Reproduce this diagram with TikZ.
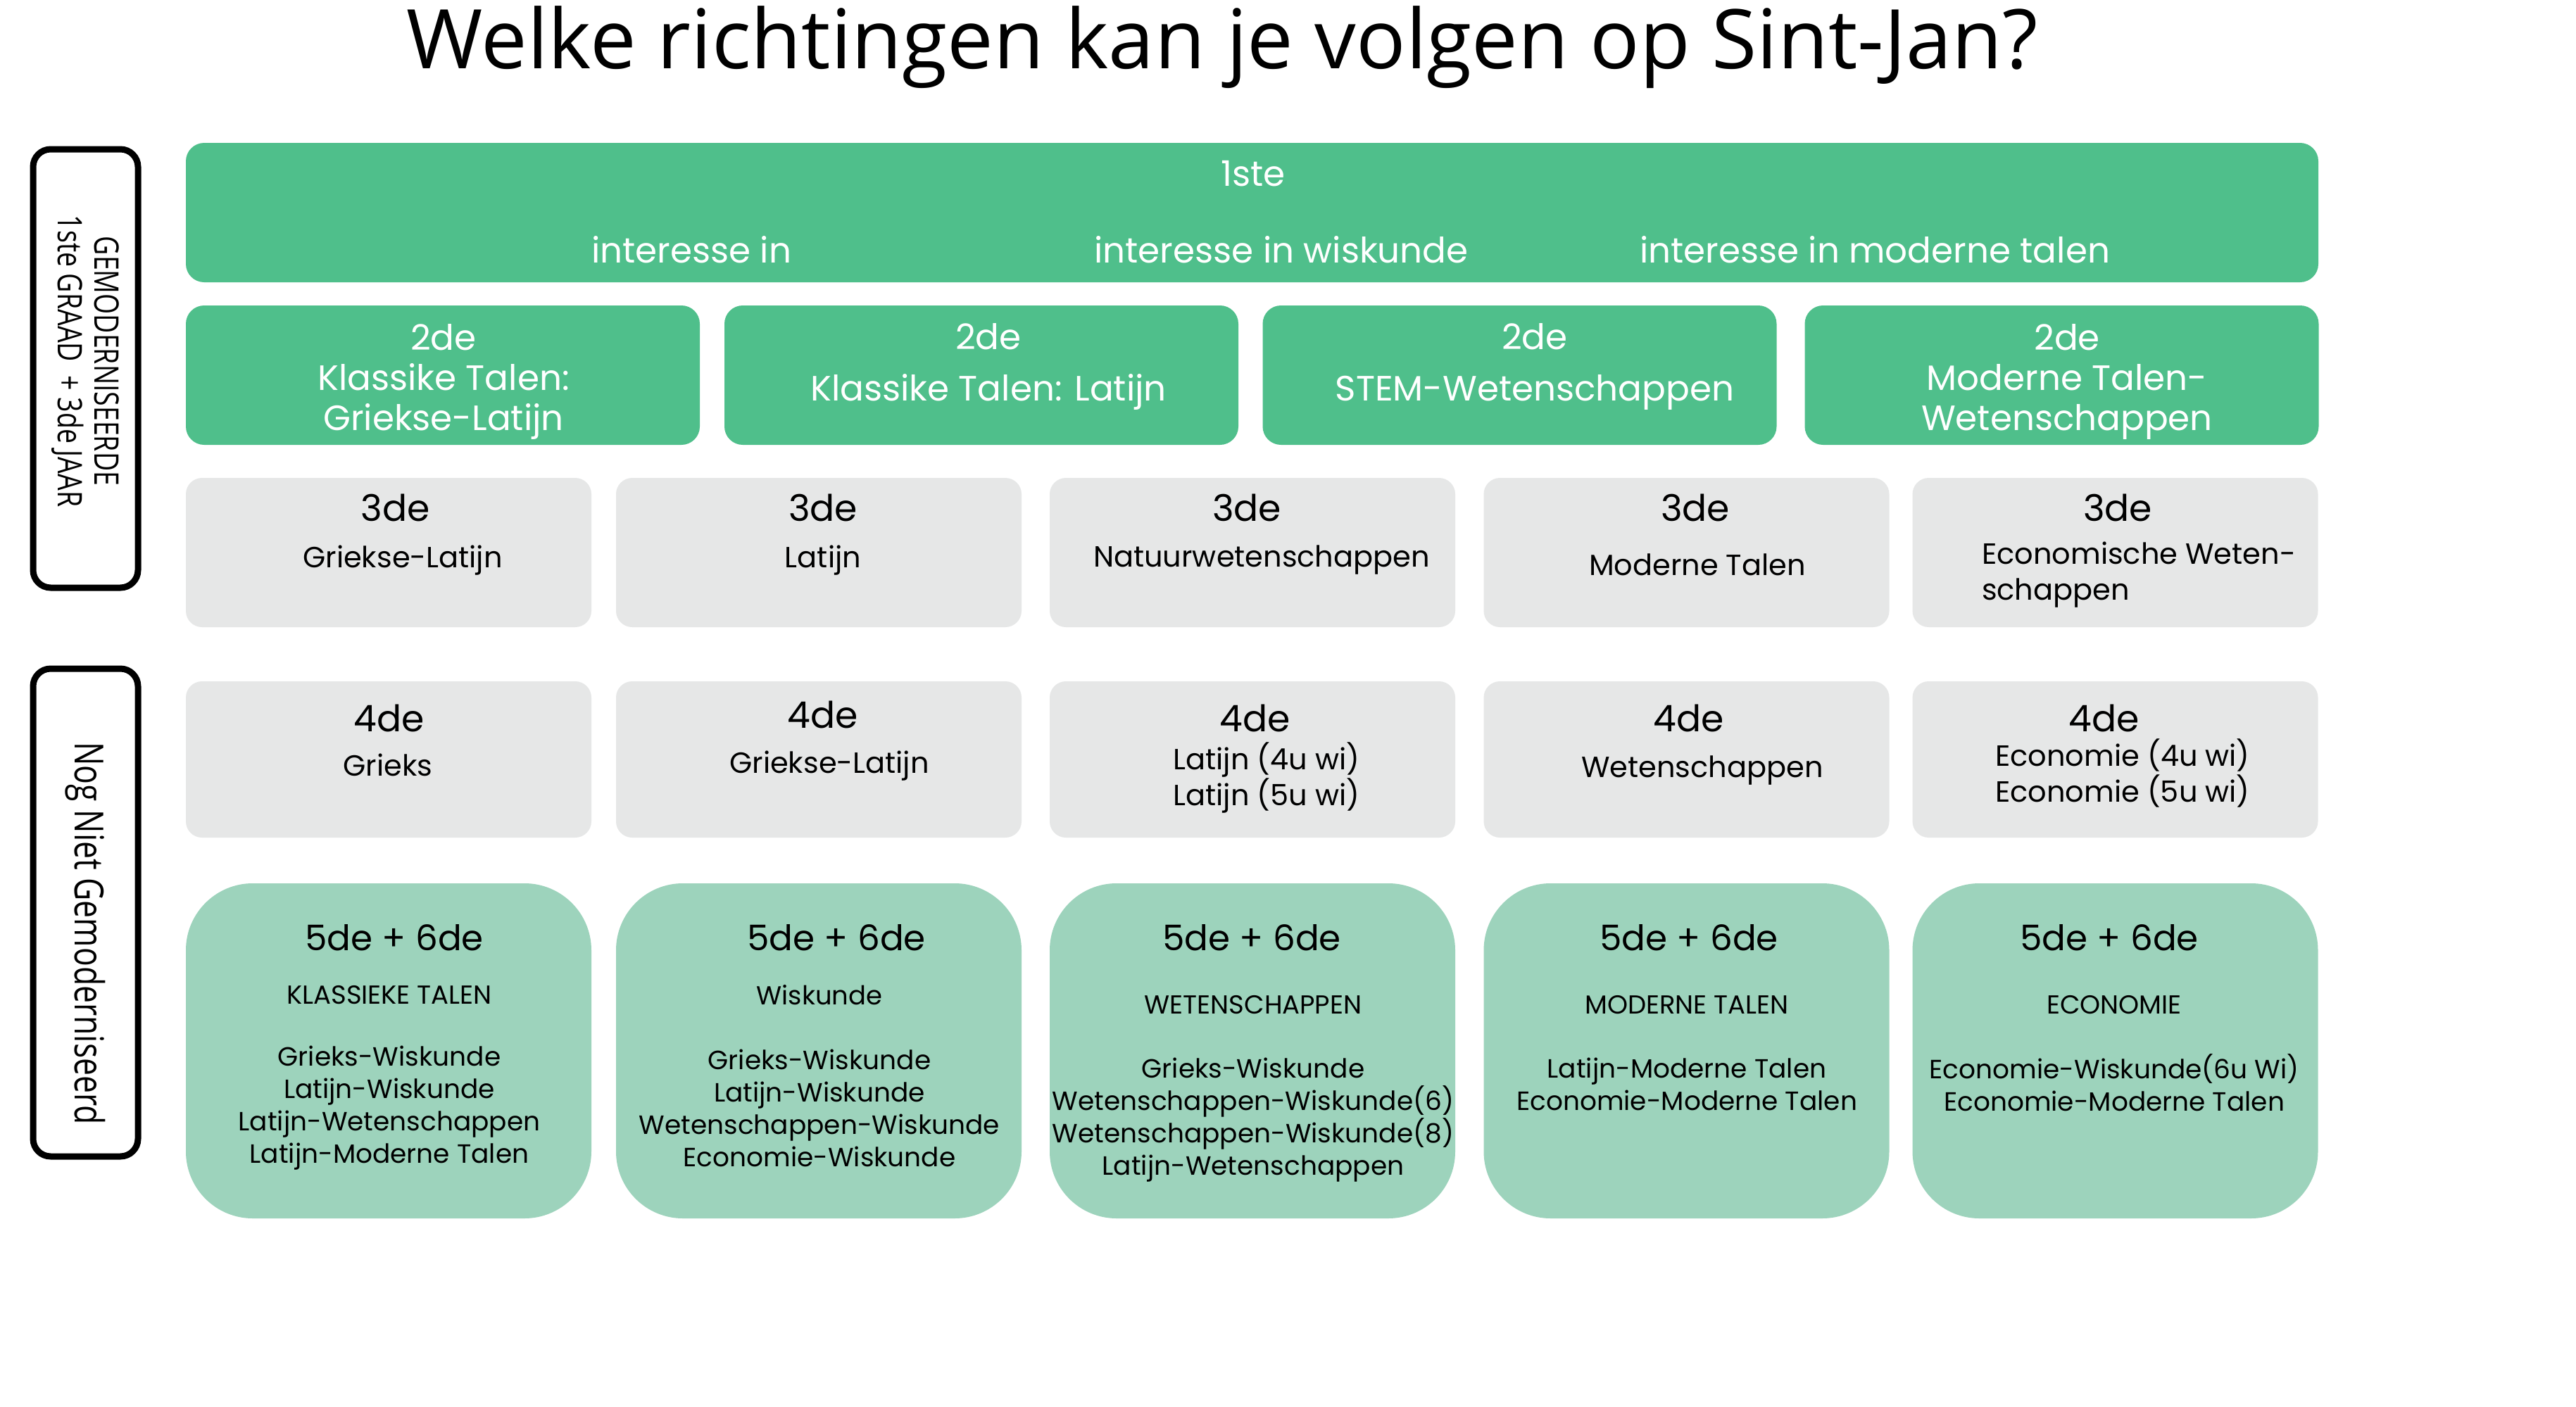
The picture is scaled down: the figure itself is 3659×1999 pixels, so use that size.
\documentclass[tikz,border=0pt]{standalone}
\usepackage{fontspec}
\setmainfont{Poppins}
\newfontfamily\titlefont{Open Sans}
\newfontfamily\condfont[FakeStretch=0.78]{Open Sans}
\definecolor{topgreen}{RGB}{79,191,139}
\definecolor{lightgreen}{RGB}{157,211,188}
\definecolor{greybox}{RGB}{230,231,231}
\tikzset{
  box/.style={draw=none, inner sep=0pt, outer sep=0pt},
  greenbox/.style={box, fill=topgreen, rounded corners=26pt, minimum height=198pt},
  twobox/.style={greenbox, minimum width=730pt},
  greybx/.style={box, fill=greybox, rounded corners=23pt, minimum width=576pt},
  fivebox/.style={box, fill=lightgreen, rounded corners=95pt, minimum width=576pt, minimum height=476pt},
  sidebox/.style={box, draw=black, line width=9pt, rounded corners=25pt, minimum width=149pt},
  wtxt/.style={text=white, inner sep=0pt, align=center, font=\fontsize{50}{57}\selectfont},
  hd/.style={inner sep=0pt, align=center, font=\fontsize{52}{60}\selectfont},
  sub/.style={inner sep=0pt, align=center, font=\fontsize{41.5}{51}\selectfont},
  fhd/.style={inner sep=0pt, align=center, font=\fontsize{50}{60}\selectfont},
  fcap/.style={inner sep=0pt, align=center, font=\fontsize{37}{40}\selectfont},
  flist/.style={inner sep=0pt, align=center, font=\fontsize{37.5}{46}\selectfont},
  sidetxt/.style={inner sep=0pt, align=center, rotate=-90},
}
\begin{document}
\begin{tikzpicture}[x=1pt,y=-1pt]
\useasboundingbox[fill=white] (0,0) rectangle (3659,1999);
% title
\node[inner sep=0pt, anchor=base, font=\titlefont\fontsize{117}{130}\selectfont] (title) at (1736,98) {Welke richtingen kan je volgen op Sint-Jan?};
% side labels
\node[sidebox, minimum height=623pt] (side1) at (121.5,523.5) {};
\node[sidetxt, font=\condfont\fontsize{48}{52}\selectfont] (side1t) at (121.5,513) {GEMODERNISEERDE\\1ste GRAAD\ \ + 3de JAAR};
\node[sidebox, minimum height=693pt] (side2) at (121.5,1296.5) {};
\node[sidetxt, font=\condfont\fontsize{57}{62}\selectfont] (side2t) at (121.5,1326) {Nog Niet Gemoderniseerd};
% top bar
\node[greenbox, minimum width=3029pt] (top) at (1778.5,302) {};
\node[wtxt] (t1) at (1780,247) {1ste};
\node[wtxt] (t2) at (982,355) {interesse in};
\node[wtxt] (t3) at (1820,355) {interesse in wiskunde};
\node[wtxt] (t4) at (2663,355) {interesse in moderne talen};
% 2de row
\node[twobox] (b2a) at (629,533) {};
\node[twobox] (b2b) at (1394,533) {};
\node[twobox] (b2c) at (2158.5,533) {};
\node[twobox] (b2d) at (2928.5,533) {};
\node[wtxt] (a1) at (630,542) {2de\\Klassike Talen:\\Griekse-Latijn};
\node[wtxt] (a2) at (1404,521) {2de\\[16pt]Klassike Talen: Latijn};
\node[wtxt] (a3) at (2180,521) {2de\\[16pt]STEM-Wetenschappen};
\node[wtxt] (a4) at (2936,542) {2de\\Moderne Talen-\\Wetenschappen};
% 3de row
\foreach \n/\cx in {a/552,b/1163,c/1779,d/2395.5,e/3004.5}{
  \node[greybx, minimum height=212pt] (b3\n) at (\cx,785) {};
  \node[greybx, minimum height=222pt] (b4\n) at (\cx,1079) {};
  \node[fivebox] (b5\n) at (\cx,1493) {};
}
\node[hd] (h3a) at (562,721) {3de};
\node[hd] (h3b) at (1169,721) {3de};
\node[hd] (h3c) at (1771,721) {3de};
\node[hd] (h3d) at (2408,721) {3de};
\node[hd] (h3e) at (3008,721) {3de};
\node[sub] (s3a) at (572,796) {Griekse-Latijn};
\node[sub] (s3b) at (1169,796) {Latijn};
\node[sub] (s3c) at (1792,796) {Natuurwetenschappen};
\node[sub] (s3d) at (2411,802) {Moderne Talen};
\node[sub, align=left] (s3e) at (3038,817) {Economische Weten-\\schappen};
% 4de row
\node[hd] (h4a) at (553,1020) {4de};
\node[hd] (h4b) at (1169,1015) {4de};
\node[hd] (h4c) at (1783,1020) {4de};
\node[hd] (h4d) at (2399,1020) {4de};
\node[hd] (h4e) at (2989,1020) {4de};
\node[sub] (s4a) at (551,1087) {Grieks};
\node[sub] (s4b) at (1178,1088) {Griekse-Latijn};
\node[sub] (s4c) at (1799,1105) {Latijn (4u wi)\\Latijn (5u wi)};
\node[sub] (s4d) at (2418,1095) {Wetenschappen};
\node[sub] (s4e) at (3015,1098) {Economie (4u wi)\\Economie (5u wi)};
% 5de row
\node[fhd] (h5a) at (560,1332) {5de + 6de};
\node[fhd] (h5b) at (1188,1332) {5de + 6de};
\node[fhd] (h5c) at (1778,1332) {5de + 6de};
\node[fhd] (h5d) at (2399,1332) {5de + 6de};
\node[fhd] (h5e) at (2996,1332) {5de + 6de};
\node[fcap] (c5a) at (553,1414) {KLASSIEKE TALEN};
\node[fcap] (c5b) at (1164,1414) {Wiskunde};
\node[fcap] (c5c) at (1780,1428) {WETENSCHAPPEN};
\node[fcap] (c5d) at (2396,1428) {MODERNE TALEN};
\node[fcap] (c5e) at (3003,1428) {ECONOMIE};
\node[flist] (l5a) at (553,1574) {Grieks-Wiskunde\\Latijn-Wiskunde\\Latijn-Wetenschappen\\Latijn-Moderne Talen};
\node[flist] (l5b) at (1164,1574) {Grieks-Wiskunde\\Latijn-Wiskunde\\Wetenschappen-Wiskunde\\Economie-Wiskunde};
\node[flist] (l5c) at (1780,1591) {Grieks-Wiskunde\\Wetenschappen-Wiskunde(6)\\Wetenschappen-Wiskunde(8)\\Latijn-Wetenschappen};
\node[flist] (l5d) at (2396,1540) {Latijn-Moderne Talen\\Economie-Moderne Talen};
\node[flist] (l5e) at (3003,1538) {Economie-Wiskunde(6u Wi)\\Economie-Moderne Talen};
\end{tikzpicture}
\end{document}
